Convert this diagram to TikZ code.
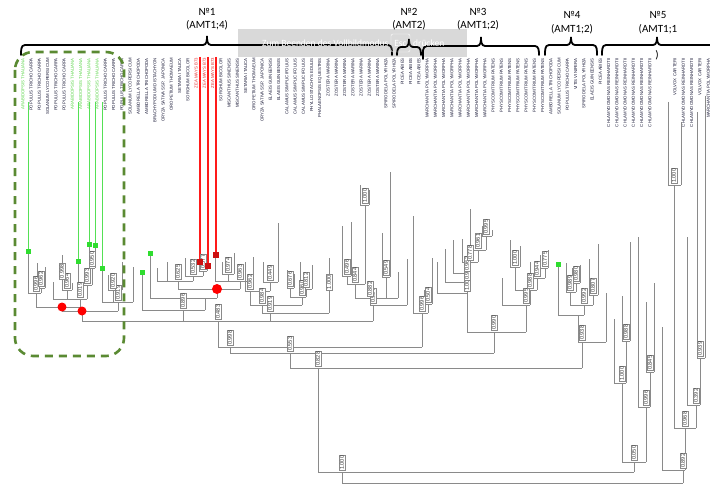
\documentclass[tikz,border=0pt]{standalone}
\usepackage{fontspec}
\setmainfont{Liberation Sans}
\newfontfamily\hdrfont{Carlito}
\definecolor{treec}{HTML}{8A8A8A}
\definecolor{labc}{HTML}{1A1A38}
\definecolor{gl}{HTML}{5CD64A}
\definecolor{rl}{HTML}{E62A2A}
\definecolor{gsqc}{HTML}{2FDD2F}
\definecolor{glinec}{HTML}{55E055}
\definecolor{rlinec}{HTML}{FF1A1A}
\definecolor{rsqc}{HTML}{CC1010}
\definecolor{dgreen}{HTML}{5A8A32}
\definecolor{overlayc}{HTML}{D9D9D9}
\newif\iflabpass
\newcommand\Tn[6]{\iflabpass\def\tmp{#6}\ifx\tmp\empty\else\node[bs] at ({#4},{#3-1.2}) {#6};\fi\else\draw[tr] (#1,#3) -- (#2,#3) (#4,#3) -- (#4,#5);\fi}
\newcommand\Tl[3]{\iflabpass\else\draw[tr] (#1,#2) -- (#1,#3);\fi}
\newcommand\Tb[3]{\iflabpass\node[bs] at (#1,#2) {#3};\fi}
\newcommand\treelist{%
% backbone
\Tn{318}{634}{472}{342}{483}{1.000}
\Tn{662}{685}{470}{683}{483}{0.892}
\Tn{290}{582}{368}{318}{472}{0.828}
\Tn{230}{494}{353}{290}{368}{0.553}
\Tn{218}{422}{347}{230}{353}{0.998}
\Tn{82}{373}{321}{218}{347}{0.483}
% group 5
\Tl{662}{327}{470}
\Tn{674}{696}{428}{685}{470}{0.968}
\Tn{668}{681}{185}{674}{428}{1.000}
\Tl{668}{102}{185}
\Tl{681}{122}{185}
\Tn{687}{700}{405}{696}{428}{0.392}
\Tl{687}{237}{405}
\Tn{697}{705}{358}{700}{405}{0.939}
\Tl{697}{112}{358}
\Tl{705}{96}{358}
\Tn{622}{646}{462}{634}{472}{0.050}
\Tn{614}{626}{383}{622}{462}{1.000}
\Tl{614}{319}{383}
\Tn{622}{630}{341}{626}{383}{0.988}
\Tl{622}{296}{341}
\Tl{630}{242}{341}
\Tn{638}{650}{407}{646}{462}{0.996}
\Tl{638}{237}{407}
\Tn{646}{654}{372}{650}{407}{0.845}
\Tl{646}{302}{372}
\Tl{654}{283}{372}
% group 4
\Tn{578}{606}{342}{582}{368}{0.938}
\Tl{606}{293}{342}
\Tn{558}{584}{315}{578}{342}{}
\Tl{558}{264}{315}
\Tn{570}{593}{305}{584}{315}{0.992}
\Tn{566}{576}{292}{570}{305}{0.989}
\Tl{566}{263}{292}
\Tn{572}{580}{283}{576}{292}{0.980}
\Tl{572}{268}{283}
\Tl{580}{265}{283}
\Tn{589}{598}{295}{593}{305}{0.807}
\Tl{589}{259}{295}
\Tl{598}{244}{295}
% group 3
\Tn{467}{526}{332}{494}{353}{0.990}
\Tn{437}{467}{293}{467}{332}{1.000}
\Tl{437}{262}{293}
\Tn{445}{467}{282}{467}{293}{0.903}
\Tl{445}{249}{282}
\Tn{453}{470}{273}{467}{282}{0.962}
\Tl{453}{240}{273}
\Tn{462}{478}{262}{470}{273}{0.778}
\Tl{462}{239}{262}
\Tn{470}{486}{250}{478}{262}{0.961}
\Tl{470}{209}{250}
\Tn{482}{492}{236}{486}{250}{0.995}
\Tl{482}{226}{236}
\Tl{492}{230}{236}
\Tn{502}{530}{305}{526}{332}{0.995}
\Tl{502}{278}{305}
\Tn{515}{537}{290}{530}{305}{0.988}
\Tn{510}{520}{267}{515}{290}{1.000}
\Tl{510}{240}{267}
\Tl{520}{246}{267}
\Tn{530}{545}{278}{537}{290}{0.944}
\Tl{530}{262}{278}
\Tn{540}{548}{268}{545}{278}{0.775}
\Tl{540}{255}{268}
\Tl{548}{250}{268}
% group 2
\Tn{413}{428}{313}{422}{347}{0.996}
\Tl{413}{216}{313}
\Tn{424}{432}{304}{428}{313}{0.504}
\Tl{424}{290}{304}
\Tl{432}{258}{304}
% cluster 340-407
\Tn{370}{407}{305}{373}{321}{0.987}
\Tl{407}{259}{305}
\Tn{355}{398}{298}{370}{305}{0.882}
\Tl{398}{272}{298}
\Tn{347}{365}{284}{355}{298}{0.844}
\Tn{342}{351}{276}{347}{284}{0.496}
\Tl{342}{226}{276}
\Tl{351}{222}{276}
\Tn{360}{369}{205}{365}{284}{1.000}
\Tl{360}{185}{205}
\Tl{369}{190}{205}
\Tn{382}{390}{277}{386}{298}{0.549}
\Tl{382}{233}{277}
\Tl{390}{172}{277}
% middle cluster
\Tn{142}{205}{310}{183}{321}{0.896}
\Tl{142}{272}{310}
\Tn{150}{217}{298}{205}{310}{}
\Tl{150}{253}{298}
\Tn{178}{240}{289}{217}{298}{}
\Tn{157}{193}{281}{178}{289}{0.625}
\Tl{157}{268}{281}
\Tl{167}{262}{281}
\Tn{185}{203}{276}{193}{281}{0.532}
\Tl{185}{258}{276}
\Tn{199}{207}{271}{203}{276}{0.577}
\Tl{199}{262}{271}
\Tl{207}{266}{271}
\Tn{215}{253}{281}{240}{289}{0.963}
\Tl{215}{255}{281}
\Tn{222}{234}{274}{228}{281}{0.974}
\Tl{222}{262}{274}
\Tl{234}{253}{274}
\Tl{253}{257}{281}
\Tn{262}{329}{313}{270}{321}{0.919}
\Tn{250}{302}{305}{262}{313}{0.984}
\Tn{245}{270}{291}{250}{305}{0.962}
\Tl{245}{262}{291}
\Tn{263}{278}{282}{270}{291}{0.449}
\Tl{263}{262}{282}
\Tl{278}{223}{282}
\Tn{290}{306}{297}{302}{305}{0.960}
\Tn{287}{294}{288}{290}{297}{0.676}
\Tl{287}{270}{288}
\Tl{294}{274}{288}
\Tn{300}{312}{289}{306}{297}{0.812}
\Tl{300}{262}{289}
\Tl{312}{265}{289}
\Tl{329}{258}{313}
\Tb{329}{290}{1.000}
% left group
\Tn{62}{118}{311}{82}{321}{}
\Tn{36}{80}{307}{62}{311}{}
\Tn{28}{41}{293}{36}{307}{0.996}
\Tl{28}{251}{293}
\Tn{37}{45}{288}{41}{293}{0.962}
\Tl{37}{263}{288}
\Tl{45}{267}{288}
\Tn{53}{87}{299}{80}{307}{0.019}
\Tl{53}{282}{299}
\Tn{62}{72}{290}{67}{299}{0.964}
\Tl{62}{255}{290}
\Tb{62}{279}{0.998}
\Tl{72}{283}{290}
\Tn{78}{92}{285}{87}{299}{0.993}
\Tl{78}{261}{285}
\Tn{89}{95}{268}{92}{285}{0.950}
\Tl{89}{244}{268}
\Tl{95}{245}{268}
\Tn{102}{133}{302}{118}{311}{0.919}
\Tl{102}{268}{302}
\Tn{108}{122}{290}{113}{302}{0.920}
\Tl{108}{275}{290}
\Tl{122}{262}{290}
\Tl{133}{267}{302}
}
\begin{document}
\begin{tikzpicture}[x=1pt,y=-1pt,
  tr/.style={draw=treec,line width=0.75pt},
  bs/.style={rotate=90,anchor=west,draw=treec,fill=white,line width=0.4pt,inner sep=0.8pt,font=\fontsize{5.6}{5.6}\selectfont,text=black!75},
  lab/.style={rotate=90,anchor=east,inner sep=0pt,font=\fontsize{4.3}{4.5}\selectfont},
  hdr/.style={font=\hdrfont\fontsize{11}{12}\selectfont,inner sep=0pt},
  brc/.style={line width=1.8pt,black,line cap=round},
  gsq/.style={fill=gsqc,draw=none,minimum size=5pt,inner sep=0pt},
  rsq/.style={fill=rsqc,draw=none,minimum size=5.5pt,inner sep=0pt},
  rdot/.style={circle,fill=red,draw=none,minimum size=9pt,inner sep=0pt},
  gln/.style={draw=glinec,line width=1pt},
  rln/.style={draw=rlinec,line width=1.1pt}]
\useasboundingbox (0,0) rectangle (710,487);
\fill[white] (0,0) rectangle (710,487);
% taxon labels
\foreach \i/\t/\c in {1/ARABIDOPSIS THALIANA/gl,2/POPULUS TRICHOCARPA/labc,3/POPULUS TRICHOCARPA/labc,4/SOLANUM LYCOPERSICUM/labc,5/POPULUS TRICHOCARPA/labc,6/POPULUS TRICHOCARPA/labc,7/ARABIDOPSIS THALIANA/gl,8/ARABIDOPSIS THALIANA/gl,9/ARABIDOPSIS THALIANA/gl,10/ARABIDOPSIS THALIANA/gl,11/POPULUS TRICHOCARPA/labc,12/POPULUS TRICHOCARPA/labc,13/POPULUS TRICHOCARPA/labc,14/SOLANUM LYCOPERSICUM/labc,15/AMBORELLA TRICHOPODA/labc,16/AMBORELLA TRICHOPODA/labc,17/BRACHYPODIUM DISTACHYON/labc,18/ORYZA SATIVA SSP. JAPONICA/labc,19/OROPETIUM THOMAEUM/labc,20/SETARIA ITALICA/labc,21/SORGHUM BICOLOR/labc,22/ZEA MAYS B73/rl,23/ZEA MAYS B73/rl,24/ZEA MAYS B73/rl,25/SORGHUM BICOLOR/labc,26/MISCANTHUS SINENSIS/labc,27/MISCANTHUS SINENSIS/labc,28/SETARIA ITALICA/labc,29/OROPETIUM THOMAEUM/labc,30/ORYZA SATIVA SSP. JAPONICA/labc,31/ELAEIS GUINEENSIS/labc,32/ELAEIS GUINEENSIS/labc,33/CALAMUS SIMPLICIFOLIUS/labc,34/CALAMUS SIMPLICIFOLIUS/labc,35/CALAMUS SIMPLICIFOLIUS/labc,36/PHYLLOSTACHYS EDULIS/labc,37/PHALAENOPSIS EQUESTRIS/labc,38/ZOSTERA MARINA/labc,39/ZOSTERA MARINA/labc,40/ZOSTERA MARINA/labc,41/ZOSTERA MARINA/labc,42/ZOSTERA MARINA/labc,43/ZOSTERA MARINA/labc,44/ZOSTERA MARINA/labc,45/SPIRODELA POLYRHIZA/labc,46/SPIRODELA POLYRHIZA/labc,47/PICEA ABIES/labc,48/PICEA ABIES/labc,49/PICEA ABIES/labc,50/MARCHANTIA POLYMORPHA/labc,51/MARCHANTIA POLYMORPHA/labc,52/MARCHANTIA POLYMORPHA/labc,53/MARCHANTIA POLYMORPHA/labc,54/MARCHANTIA POLYMORPHA/labc,55/MARCHANTIA POLYMORPHA/labc,56/MARCHANTIA POLYMORPHA/labc,57/MARCHANTIA POLYMORPHA/labc,58/PHYSCOMITRIUM PATENS/labc,59/PHYSCOMITRIUM PATENS/labc,60/PHYSCOMITRIUM PATENS/labc,61/PHYSCOMITRIUM PATENS/labc,62/PHYSCOMITRIUM PATENS/labc,63/PHYSCOMITRIUM PATENS/labc,64/PHYSCOMITRIUM PATENS/labc,65/AMBORELLA TRICHOPODA/labc,66/SOLANUM LYCOPERSICUM/labc,67/POPULUS TRICHOCARPA/labc,68/VITIS VINIFERA/labc,69/SPIRODELA POLYRHIZA/labc,70/ELAEIS GUINEENSIS/labc,71/PICEA ABIES/labc,72/CHLAMYDOMONAS REINHARDTII/labc,73/CHLAMYDOMONAS REINHARDTII/labc,74/CHLAMYDOMONAS REINHARDTII/labc,75/CHLAMYDOMONAS REINHARDTII/labc,76/CHLAMYDOMONAS REINHARDTII/labc,77/CHLAMYDOMONAS REINHARDTII/labc}
  \node[lab,text=\c] (t\i) at ({23+8.25*(\i-1)},58) {\t};
\foreach \j/\x/\t in {1/675/VOLVOX CARTERI,2/683.3/CHLAMYDOMONAS REINHARDTII,3/691.7/CHLAMYDOMONAS REINHARDTII,4/700/VOLVOX CARTERI,5/708.3/MARCHANTIA POLYMORPHA}
  \node[lab,text=labc] (u\j) at (\x,58) {\t};
% tree lines
\labpassfalse\treelist
\draw[tr] (342,483) -- (683,483);
% highlight lines
\foreach \x/\y in {28/251,78/261,89/244,95/245,102/268}
  \draw[gln] (\x,102) -- (\x,\y);
\foreach \x/\y in {200/262,208/266,216/255}
  \draw[rln] (\x,57) -- (\x,\y);
% support values
\labpasstrue\treelist
% markers
\foreach \x/\y [count=\k] in {28/251,78/261,89/244,95/245,102/268,150/253,142/272,558/264}
  \node[gsq] (g\k) at (\x,\y) {};
\foreach \x/\y [count=\k] in {200/262,208/266,216/255}
  \node[rsq] (r\k) at (\x,\y) {};
\node[rdot] (c1) at (62,307) {};
\node[rdot] (c2) at (82,311) {};
\node[rdot,minimum size=10pt] (c3) at (217,289) {};
% dashed frame
\draw[dgreen,line width=2.6pt,dash pattern=on 8pt off 6pt,rounded corners=18pt] (15,52) rectangle (124,356);
% overlay box
\fill[overlayc] (238,29) rectangle (467,57);
% braces
\draw[brc] (21,55) to[out=90,in=180] (25,45) -- (203,45) to[out=0,in=-90] (207,36) to[out=-90,in=180] (211,45) -- (388,45) to[out=0,in=90] (392,55);
\draw[brc] (397,55) to[out=90,in=180] (401,47) -- (405,47) to[out=0,in=-90] (409,39) to[out=-90,in=180] (413,47) -- (417,47) to[out=0,in=90] (421,55);
\draw[brc] (423,59) to[out=90,in=180] (427,46) -- (477,46) to[out=0,in=-90] (481,37) to[out=-90,in=180] (485,46) -- (535,46) to[out=0,in=90] (539,55);
\draw[brc] (545,55) to[out=90,in=180] (549,45) -- (567,45) to[out=0,in=-90] (571,37) to[out=-90,in=180] (575,45) -- (593,45) to[out=0,in=90] (597,55);
\draw[brc] (602,55) to[out=90,in=180] (606,45) -- (653,45) to[out=0,in=-90] (657,37) to[out=-90,in=180] (661,45) -- (712,45);
% overlay text
\node[anchor=west,inner sep=0pt,text=white,font=\hdrfont\fontsize{9.5}{11}\selectfont] (ov1) at (262,43) {Zum Beenden des Vollbildmodus};
\node[draw=white,rounded corners=2pt,minimum width=19pt,minimum height=18pt,inner sep=0pt,text=white,font=\hdrfont\fontsize{9.5}{11}\selectfont] (ov2) at (400.5,43) {Esc};
\node[anchor=west,inner sep=0pt,text=white,font=\hdrfont\fontsize{9.5}{11}\selectfont] (ov3) at (413,43) {drücken};
% headers
\node[hdr] (h1a) at (207,12) {№1};
\node[hdr] (h1b) at (207,25) {(AMT1;4)};
\node[hdr] (h2a) at (409,12) {№2};
\node[hdr] (h2b) at (409,25) {(AMT2)};
\node[hdr] (h3a) at (478,12) {№3};
\node[hdr] (h3b) at (478,25) {(AMT1;2)};
\node[hdr] (h4a) at (572,15) {№4};
\node[hdr] (h4b) at (572,29) {(AMT1;2)};
\node[hdr] (h5a) at (658,15) {№5};
\node[hdr] (h5b) at (658,29) {(AMT1;1};
\node[hdr] (h5c) at (657,55) {)};
\end{tikzpicture}
\end{document}
